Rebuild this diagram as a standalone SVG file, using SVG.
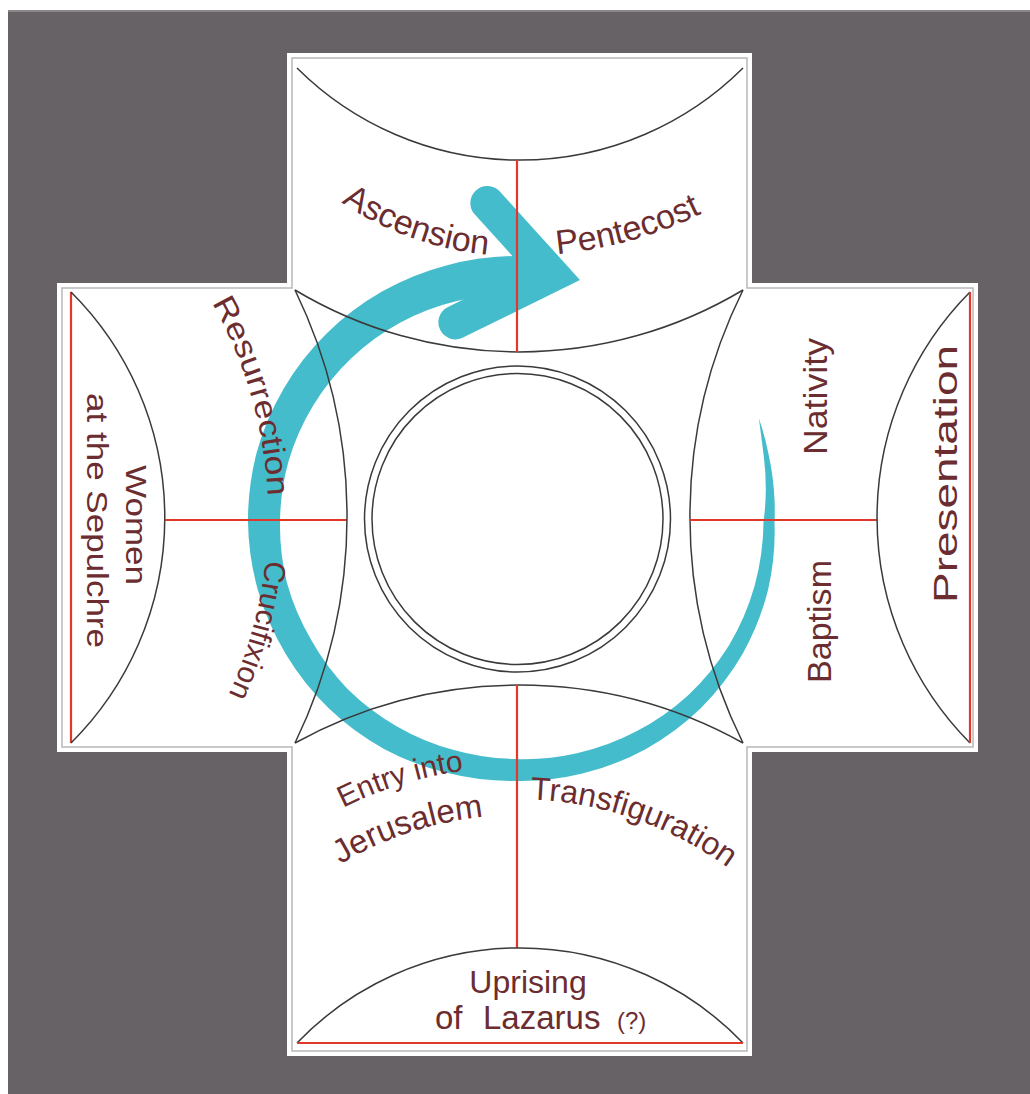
<svg xmlns="http://www.w3.org/2000/svg" width="1030" height="1094" viewBox="0 0 1030 1094">
<style>
.ln{fill:none;stroke:#3a3a3a;stroke-width:1.5}
.rd{fill:none;stroke:#e0382a;stroke-width:2.2}
.tx{font-family:"Liberation Sans",Arial,sans-serif;fill:#6b2d2f}
.teal{fill:#45bccb}
</style>
<defs>
<path id="p-asc" d="M 300 169.3 A 315 315 0 0 0 517 256"/>
<path id="p-pen" d="M 517 256 A 424 424 0 0 0 740 192.6"/>
<path id="p-entry" d="M 266.3 858.2 A 390 390 0 0 1 767.7 858.2"/>
<path id="p-jer" d="M 297.2 895.1 A 342 342 0 0 1 736.8 895.1"/>
<path id="p-trans" d="M 286.9 882.8 A 358 358 0 0 1 747.1 882.8"/>
<path id="p-left" d="M 177.3 251.5 A 428 428 0 0 1 177.3 778.5"/>
</defs>
<rect x="0" y="0" width="1030" height="1094" fill="#ffffff"/>
<rect id="background" x="8" y="10" width="1022" height="1084" fill="#666266"/>
<line x1="8" y1="11" x2="1030" y2="11" stroke="#8a868a" stroke-width="2"/>
<g id="frame">
<path d="M287 53 H752 V283 H978 V752 H752 V1056 H287 V752 H57 V283 H287 Z" fill="#ffffff"/>
<path d="M292 58 H747 V288 H973 V747 H747 V1051 H292 V747 H62 V288 H292 Z" fill="none" stroke="#b8b8b8" stroke-width="1.5"/>
</g>
<g id="connectors">
<path id="cycle-arrow" class="teal" d="M 758.9 418.5 A 260 260 0 0 1 768.5 454.1 A 260 260 0 0 1 774.5 499.3 A 260 260 0 0 1 774.5 522 A 260 260 0 0 1 768.1 589.8 A 262 262 0 0 1 742.8 653.5 A 263 263 0 0 1 701.0 708.0 A 262 262 0 0 1 646 748.9 A 261 261 0 0 1 582.4 773.6 A 260 260 0 0 1 515 781 A 260 260 0 0 1 447.7 773.1 A 261 261 0 0 1 384 748.9 A 263 263 0 0 1 328.7 708.3 A 264 264 0 0 1 285.9 654.3 A 265 265 0 0 1 258.1 590.8 A 266 266 0 0 1 248 522 A 267 267 0 0 1 256.6 452.8 A 267 267 0 0 1 283.8 388.5 A 267 267 0 0 1 326.6 333.6 A 266 266 0 0 1 382 291.6 A 266 266 0 0 1 446.3 265.5 A 266 266 0 0 1 515 256 A 266 266 0 0 1 528.9 256.4 L 526.9 294.3 A 228 228 0 0 0 515 294 A 228 228 0 0 0 455.9 301.3 A 229 229 0 0 0 400 322.8 A 231 231 0 0 0 351.3 358.3 A 232 232 0 0 0 313.2 405.5 A 234 234 0 0 0 288.5 461.3 A 235 235 0 0 0 280 522 A 235 235 0 0 0 287 583.1 A 236 236 0 0 0 311.1 639.8 A 236 236 0 0 0 347.8 689.2 A 236 236 0 0 0 397 726.4 A 236 236 0 0 0 453.9 750 A 237 237 0 0 0 515 759 A 238 238 0 0 0 577 753.3 A 241 241 0 0 0 636 731.6 A 244 244 0 0 0 688.2 695.2 A 246 246 0 0 0 728.9 645.5 A 248 248 0 0 0 754.5 586.2 A 248 248 0 0 0 763.5 522 A 250 250 0 0 0 765.5 500.1 A 255 255 0 0 0 763.7 455.4 Z"/>
<path id="arrowhead" class="teal" d="M 580 280 L 499.6 191.2 A 17 17 0 0 0 474.4 214 L 524.5 269.4 L 447.5 307.3 A 17 17 0 0 0 462.5 337.8 Z"/>
</g>
<g id="top-arm">
<path class="ln" d="M 297 68 A 316 316 0 0 0 743 68"/>
<path class="ln" d="M 295 290 A 436 436 0 0 0 743 290"/>
<path class="rd" d="M 517 160 V 352"/>
<text class="tx" font-size="34" text-anchor="end"><textPath href="#p-asc" startOffset="210">Ascension</textPath></text>
<text class="tx" font-size="34"><textPath href="#p-pen" startOffset="40">Pentecost</textPath></text>
</g>
<g id="left-arm">
<path class="rd" d="M 71 292 V 743"/>
<path class="ln" d="M 71 292 A 318 318 0 0 1 71 743"/>
<path class="rd" d="M 165 520 H 347"/>
<path class="ln" d="M 295 290 A 519 519 0 0 1 295 743"/>
<text class="tx" font-size="30" transform="translate(126,465) rotate(90)" textLength="120" lengthAdjust="spacingAndGlyphs">Women</text>
<text class="tx" font-size="30" transform="translate(87,393) rotate(90)" textLength="255" lengthAdjust="spacingAndGlyphs">at the Sepulchre</text>
<text class="tx" font-size="31"><textPath href="#p-left" startOffset="62" textLength="203" lengthAdjust="spacingAndGlyphs">Resurrection</textPath></text>
<text class="tx" font-size="30"><textPath href="#p-left" startOffset="329">Crucifixion</textPath></text>
</g>
<g id="right-arm">
<path class="ln" d="M 743 290 A 510 510 0 0 0 743 743"/>
<path class="rd" d="M 690 520 H 877"/>
<path class="ln" d="M 970 292 A 320 320 0 0 0 970 743"/>
<path class="rd" d="M 970 292 V 743"/>
<text class="tx" font-size="33" transform="translate(827,455) rotate(-90)" textLength="117" lengthAdjust="spacingAndGlyphs">Nativity</text>
<text class="tx" font-size="34" transform="translate(831,683) rotate(-90)" textLength="123" lengthAdjust="spacingAndGlyphs">Baptism</text>
<text class="tx" font-size="34" transform="translate(957,603) rotate(-90)" textLength="258" lengthAdjust="spacingAndGlyphs">Presentation</text>
</g>
<g id="bottom-arm">
<path class="ln" d="M 295 743 A 462 462 0 0 1 743 743"/>
<path class="rd" d="M 517 685 V 948"/>
<path class="ln" d="M 297 1043 A 309 309 0 0 1 743 1043"/>
<path class="rd" d="M 297 1043 H 743"/>
<text class="tx" font-size="30"><textPath href="#p-entry" startOffset="92">Entry into</textPath></text>
<text class="tx" font-size="33"><textPath href="#p-jer" startOffset="53">Jerusalem</textPath></text>
<text class="tx" font-size="32"><textPath href="#p-trans" startOffset="263">Transfiguration</textPath></text>
<text class="tx" font-size="32" x="528" y="993" text-anchor="middle">Uprising</text>
<text class="tx" font-size="33" y="1029"><tspan x="435">of</tspan><tspan x="483">Lazarus</tspan><tspan x="617" font-size="24">(?)</tspan></text>
</g>
<g id="center">
<circle cx="517.5" cy="519" r="153" class="ln"/>
<circle cx="517.5" cy="519" r="145.5" class="ln"/>
</g>
</svg>
